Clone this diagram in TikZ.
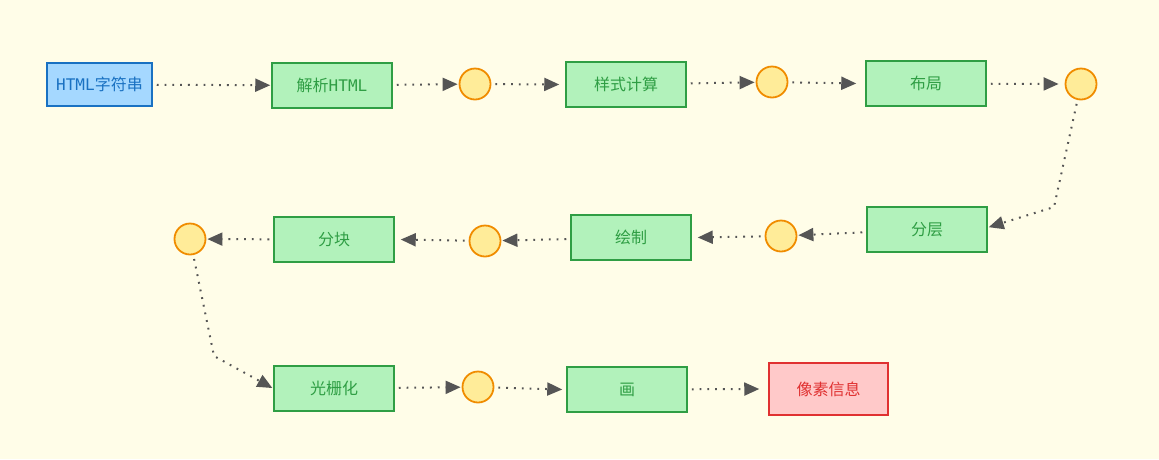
\documentclass[tikz,border=0pt]{standalone}
\usepackage{fontspec}
\newfontfamily\cjk{Noto Sans CJK SC}
\newfontfamily\mono{DejaVu Sans Mono}
\usetikzlibrary{arrows.meta}

\definecolor{bgc}{HTML}{FFFDE8}
\definecolor{greenfill}{HTML}{B2F2BB}
\definecolor{greenline}{HTML}{2F9E44}
\definecolor{bluefill}{HTML}{A5D8FF}
\definecolor{blueline}{HTML}{1971C2}
\definecolor{redfill}{HTML}{FFC9C9}
\definecolor{redline}{HTML}{E03131}
\definecolor{dotfill}{HTML}{FFEC99}
\definecolor{dotline}{HTML}{F08C00}
\definecolor{arrowc}{HTML}{555555}

\tikzset{
  stage/.style={draw=greenline, fill=greenfill, text=greenline, line width=1.5pt,
    minimum width=120pt, minimum height=45pt, inner sep=0pt, font=\fontsize{16}{19}\selectfont},
  inbox/.style={stage, draw=blueline, fill=bluefill, text=blueline, minimum width=105pt, minimum height=43pt},
  outbox/.style={stage, draw=redline, fill=redfill, text=redline, minimum width=119pt, minimum height=52pt},
  joint/.style={circle, draw=dotline, fill=dotfill, line width=1.8pt, minimum size=31pt, inner sep=0pt},
  flow/.style={arrowc, line width=2pt, dash pattern=on 1.8pt off 6pt,
    -{Triangle[length=15pt, width=13pt]}, shorten <=4pt, shorten >=1pt}
}

\begin{document}
\begin{tikzpicture}[x=1pt, y=-1pt]

\path [use as bounding box, fill=bgc] (0,0) rectangle (1159,459);

% ROW 1
\node [inbox] (html) at (99.5,84.5) {{\mono HTML}{\cjk 字符串}};
\node [stage] (parse) at (332,85.5) {{\cjk 解析}{\mono HTML}};
\node [joint] (j1) at (475,84) {};
\node [stage] (style) at (626,84.5) {\cjk 样式计算};
\node [joint] (j2) at (772,82) {};
\node [stage] (layout) at (926,83.5) {\cjk 布局};
\node [joint] (j3) at (1081,84) {};

% ROW 2
\node [stage] (layer) at (927,229.5) {\cjk 分层};
\node [joint] (j4) at (781,236) {};
\node [stage] (paint) at (631,237.5) {\cjk 绘制};
\node [joint] (j5) at (485,241) {};
\node [stage] (tile) at (334,239.5) {\cjk 分块};
\node [joint] (j6) at (190,239) {};

% ROW 3
\node [stage] (raster) at (334,388.5) {\cjk 光栅化};
\node [joint] (j7) at (478,387) {};
\node [stage] (draw) at (627,389.5) {\cjk 画};
\node [outbox] (pixel) at (828.5,389) {\cjk 像素信息};

% BENDS
\coordinate (bend1) at (1054,207);
\coordinate (bend2) at (214,356);

% FLOW
\draw [flow] (html) -- (parse);
\draw [flow] (parse) -- (j1);
\draw [flow] (j1) -- ([xshift=-5pt]style.west);
\draw [flow] (style) -- (j2);
\draw [flow] (j2) -- ([xshift=-8pt]layout.west);
\draw [flow] (layout) -- ([xshift=-5pt]j3.west);
\draw [flow] (j3) -- (bend1) -- ([yshift=2pt]layer.east);
\draw [flow] (layer) -- (j4);
\draw [flow] (j4) -- ([xshift=5pt]paint.east);
\draw [flow] (paint) -- (j5);
\draw [flow] (j5) -- ([xshift=5pt]tile.east);
\draw [flow] (tile) -- (j6);
\draw [flow] (j6) -- (bend2) -- (raster.west);
\draw [flow] (raster) -- (j7);
\draw [flow] (j7) -- ([xshift=-3pt]draw.west);
\draw [flow] (draw) -- ([xshift=-8pt]pixel.west);

\end{tikzpicture}
\end{document}
